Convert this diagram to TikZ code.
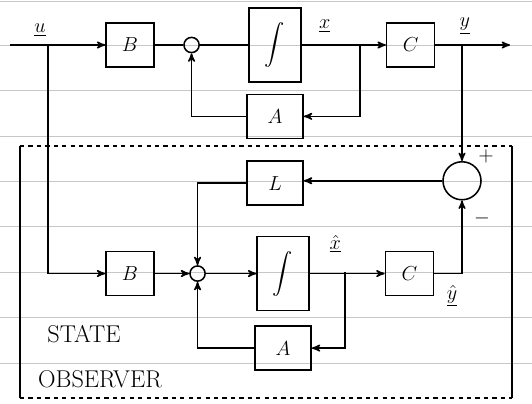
\documentclass[tikz,border=0pt]{standalone}
\usepackage{amsmath}
\usepackage{tikz}
\usetikzlibrary{shapes,arrows,positioning,calc}
\tikzstyle{block} = [rectangle, minimum width=1.2cm, minimum height=1.1cm, text centered, draw=black, line width=1.1pt, font=\Large]
\tikzstyle{integ} = [rectangle, minimum width=1.3cm, minimum height=1.85cm, text centered, draw=black, line width=1.1pt, font=\Large]
\tikzstyle{gain} = [rectangle, minimum width=1.4cm, minimum height=1.1cm, text centered, draw=black, line width=1.1pt, font=\Large]
\tikzstyle{sumnode} = [circle, minimum size=0.38cm, inner sep=0pt, draw=black, line width=1.1pt]
\tikzstyle{bigsum} = [circle, minimum size=0.95cm, inner sep=0pt, draw=black, line width=1.1pt]
\tikzstyle{wire} = [line width=1.1pt]
\tikzstyle{arrow} = [line width=1.1pt,->,>=stealth']
\tikzstyle{ruling} = [black!22, thin]

\begin{document}
\begin{tikzpicture}[node distance=1cm, auto, >=stealth']
\useasboundingbox (0,0) rectangle (13.3,10.1);

% Linhas do papel
\foreach \ly in {10.08, 8.975, 7.84, 6.705, 5.57, 4.435, 3.3, 2.165, 1.03}
  \draw[ruling] (0,\ly) -- (13.3,\ly);

% Planta
\node (Btop) [block] at (3.25,8.975) {$B$};
\node (sumtop) [sumnode, right=0.71cm of Btop] {};
\node (inttop) [integ, right=1.21cm of sumtop] {$\displaystyle\int$};
\node (Ctop) [block, right=2.1cm of inttop] {$C$};
\node (Atop) [gain, below=0.27cm of inttop] {$A$};

% Observador
\node (L) [gain, below=0.53cm of Atop] {$L$};
\node (Bbot) [block, below=4.575cm of Btop] {$B$};
\node (sumbot) [sumnode, right=0.86cm of Bbot] {};
\node (intbot) [integ, right=1.26cm of sumbot] {$\displaystyle\int$};
\node (Cbot) [block, right=1.87cm of intbot] {$C$};
\node (Abot) [gain, below=0.35cm of intbot] {$A$};

% Pontos de ramificacao
\coordinate (uin) at (0.25,8.975);
\coordinate (ubr) at (1.2,8.975);
\coordinate (xbr) at (9.0,8.975);
\coordinate (ybr) at (11.55,8.975);
\coordinate (yout) at (12.75,8.975);
\coordinate (xhbr) at (8.62,3.3);
\node (obsum) [bigsum, below=2.9cm of ybr] {};

% Rotulos
\node (ulabel) at (1.0,9.35) {\Large$\underline{u}$};
\node (xlabel) at (8.12,9.45) {\Large$\underline{x}$};
\node (ylabel) at (11.62,9.45) {\Large$\underline{y}$};
\node (xhlabel) at (8.38,4.0) {\Large$\underline{\hat{x}}$};
\node (yhlabel) at (11.3,2.7) {\Large$\underline{\hat{y}}$};
\node (plus) at (12.15,6.2) {\Large$+$};
\node (minus) at (12.05,4.65) {\Large$-$};
\node (state) at (2.1,1.75) {\LARGE STATE};
\node (observer) at (2.5,0.62) {\LARGE OBSERVER};

% Conexoes da planta
\draw [arrow] (uin) -- (Btop);
\draw [wire] (Btop) -- (sumtop);
\draw [wire] (sumtop) -- (inttop);
\draw [arrow] (inttop) -- (Ctop);
\draw [arrow] (Ctop) -- (yout);
\draw [arrow] (xbr) |- (Atop.east);
\draw [arrow] (Atop.west) -| (sumtop.south);

% Conexoes do observador
\draw [arrow] (ubr) |- (Bbot.west);
\draw [arrow] (Bbot) -- (sumbot);
\draw [arrow] (sumbot) -- (intbot);
\draw [arrow] (intbot) -- (Cbot);
\draw [arrow] (xhbr) |- (Abot.east);
\draw [arrow] (Abot.west) -| (sumbot.south);
\draw [arrow] (ybr) -- (obsum.north);
\draw [arrow] (Cbot.east) -| (obsum.south);
\draw [arrow] (obsum.west) -- (obsum.west -| L.east);
\draw [arrow] (L.west) -| (sumbot.north);

% Moldura do observador
\draw [wire, dashed] (0.5,6.45) -- (12.8,6.45);
\draw [wire, dashed] (0.5,0.15) -- (12.8,0.15);
\draw [wire] (0.5,6.45) -- (0.5,0.15);
\draw [wire] (12.8,6.45) -- (12.8,0.15);

\end{tikzpicture}
\end{document}
